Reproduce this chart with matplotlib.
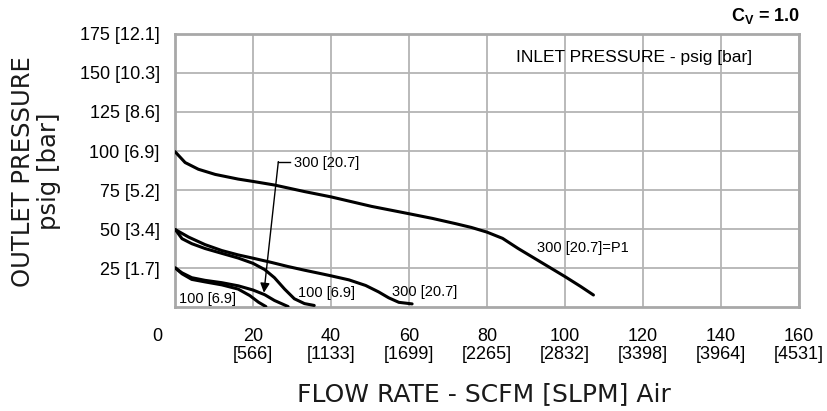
import matplotlib
matplotlib.use("Agg")
import matplotlib.pyplot as plt

plt.rcParams['font.family'] = ['Liberation Sans', 'DejaVu Sans']
plt.rcParams['mathtext.fontset'] = 'custom'
plt.rcParams['mathtext.rm'] = 'Liberation Sans'
plt.rcParams['mathtext.bf'] = 'Liberation Sans:bold'

# flow (SCFM) vs outlet pressure (psig)
p1_300_x = [0, 2.6, 6, 10.3, 16.2, 20, 25.5, 33.2, 40, 50.4, 60, 66, 72, 76, 80,
            84, 88, 92, 96, 100, 104, 107.3]
p1_300_y = [99.6, 92.6, 88.3, 85, 82, 80.5, 78.2, 74, 70.6, 64.5, 59.8, 56.8, 53.4, 51, 48,
            44, 37.5, 31.5, 25.5, 19.5, 13.2, 7.7]

p50_300_x = [0.1, 3.5, 7.7, 12, 16.2, 20, 24.7, 28.9, 33.2, 37.4, 40, 44.6, 48.9,
             52.2, 54.8, 57.4, 60.8]
p50_300_y = [49.6, 44.8, 40, 36.2, 33.4, 31.3, 28.6, 26, 23.6, 21.4, 20, 17.4, 13.8,
             9.7, 5.9, 3, 2]

p50_100_x = [0.1, 1.8, 4.3, 7.7, 12, 16.2, 20, 23, 25.5, 28.1, 30.6, 33.2, 35.7]
p50_100_y = [49.6, 43.8, 40.6, 37.5, 34.4, 31.4, 28, 24, 18.8, 11.5, 5.3, 2.2, 1]

p25_300_x = [0.1, 1.8, 4.3, 7.7, 12, 16.2, 20, 23, 25.5, 29]
p25_300_y = [25, 21.9, 18.8, 17.1, 15.6, 13.6, 10.9, 7.9, 4.2, 0.3]

p25_100_x = [0.1, 1.8, 4.3, 7.7, 12, 16.2, 19.2, 21.4, 23.3]
p25_100_y = [25, 21.3, 17.7, 16.1, 14.2, 11.5, 7.3, 3.1, 0.3]

x_ticks = [0, 20, 40, 60, 80, 100, 120, 140, 160]
x_tick_labels = ['', '20\n[566]', '40\n[1133]', '60\n[1699]', '80\n[2265]',
                 '100\n[2832]', '120\n[3398]', '140\n[3964]', '160\n[4531]']
y_ticks = [25, 50, 75, 100, 125, 150, 175]
y_tick_labels = ['25 [1.7]', '50 [3.4]', '75 [5.2]', '100 [6.9]',
                 '125 [8.6]', '150 [10.3]', '175 [12.1]']

fig = plt.figure(figsize=(8.27, 4.11), dpi=100)
ax = fig.add_axes([0.2116, 0.253, 0.7545, 0.6643])

for xs, ys in [(p1_300_x, p1_300_y), (p50_300_x, p50_300_y), (p50_100_x, p50_100_y),
               (p25_300_x, p25_300_y), (p25_100_x, p25_100_y)]:
    ax.plot(xs, ys, color='black', lw=2.2, solid_capstyle='round',
            solid_joinstyle='round', zorder=3)

ax.set_xlim(0, 160)
ax.set_ylim(0, 175)
ax.set_xticks(x_ticks)
ax.set_xticklabels(x_tick_labels, fontsize=13, linespacing=1.05)
ax.set_yticks(y_ticks)
ax.set_yticklabels(y_tick_labels, fontsize=13)
ax.tick_params(axis='both', length=0)
ax.tick_params(axis='x', pad=15)
ax.tick_params(axis='y', pad=11)
ax.grid(True, color='#b4b4b4', lw=1.3)
ax.set_axisbelow(True)
for s in ax.spines.values():
    s.set_color('#a8a8a8')
    s.set_linewidth(2)

# the lone "0" sits left of the axis corner
ax.annotate('0', xy=(0, 0), xycoords='data', xytext=(-13, -15),
            textcoords='offset points', ha='center', va='top', fontsize=13,
            annotation_clip=False)

ax.text(117.7, 160, 'INLET PRESSURE - psig [bar]', fontsize=12.5, ha='center', va='center')
ax.text(92.7, 37.6, '300 [20.7]=P1', fontsize=10.5, ha='left', va='center')
ax.text(0.9, 5.1, '100 [6.9]', fontsize=10.5, ha='left', va='center')
ax.text(31.6, 8.8, '100 [6.9]', fontsize=10.5, ha='left', va='center')
ax.text(55.6, 9.4, '300 [20.7]', fontsize=10.5, ha='left', va='center')

ax.text(30.5, 92.5, '300 [20.7]', fontsize=10.5, ha='left', va='center')
ax.plot([26.5, 29.5], [93.2, 93.2], color='black', lw=1)
ax.annotate('', xy=(22.8, 9.2), xytext=(26.5, 93.2),
            arrowprops=dict(arrowstyle='-|>', color='black', lw=1,
                            mutation_scale=14, shrinkA=0, shrinkB=0))

fig.text(0.585, 0.041, 'FLOW RATE - SCFM [SLPM] Air', family='DejaVu Sans',
         fontsize=18, ha='center', va='center', color='#1a1a1a')
fig.text(0.0435, 0.583, 'OUTLET PRESSURE\npsig [bar]', family='DejaVu Sans',
         fontsize=17.5, ha='center', va='center', rotation=90, linespacing=1.15,
         color='#1a1a1a')
fig.text(0.967, 0.962, r'C$_\mathbf{V}$ = 1.0', fontsize=13, fontweight='bold',
         ha='right', va='center')

fig.savefig('out.png', dpi=100)
